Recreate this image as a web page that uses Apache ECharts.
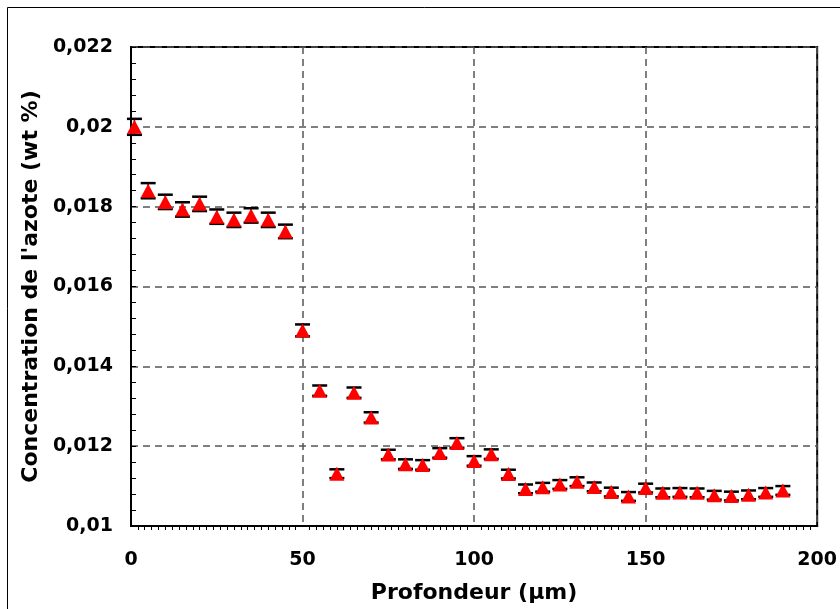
<!DOCTYPE html>
<html>
<head>
<meta charset="utf-8">
<script src="https://cdn.jsdelivr.net/npm/echarts@6/dist/echarts.min.js"></script>
<style>
html,body{margin:0;padding:0;background:#fff;}
#chart{width:840px;height:609px;}
</style>
</head>
<body>
<div id="chart"></div>
<script>
// Depth (µm)
const depths = [1, 5, 10, 15, 20, 25, 30, 35, 40, 45, 50, 55, 60, 65, 70, 75, 80, 85, 90, 95,
  100, 105, 110, 115, 120, 125, 130, 135, 140, 145, 150, 155, 160, 165, 170, 175, 180, 185, 190];
// Nitrogen concentration (wt %)
const concentrations = [0.0200, 0.01840, 0.01812, 0.01793, 0.01807, 0.01775, 0.01767, 0.01778, 0.01767, 0.01738,
  0.01490, 0.01339, 0.01131, 0.01334, 0.01272, 0.01179, 0.01155, 0.01153, 0.01183, 0.01208,
  0.01163, 0.01180, 0.01130, 0.01093, 0.01097, 0.01104, 0.01111, 0.01098, 0.01085, 0.01074,
  0.01095, 0.01083, 0.01084, 0.01083, 0.01077, 0.01075, 0.01078, 0.01084, 0.01089];
// Error bar half-widths (wt %)
const errors = [0.00020, 0.00019, 0.00018, 0.00018, 0.00018, 0.00018, 0.00018, 0.00018, 0.00018, 0.00017,
  0.00015, 0.00013, 0.00011, 0.00013, 0.00013, 0.00012, 0.00012, 0.00012, 0.00012, 0.00012,
  0.00012, 0.00012, 0.00011, 0.00011, 0.00011, 0.00011, 0.00011, 0.00011, 0.00011, 0.00011,
  0.00011, 0.00011, 0.00011, 0.00011, 0.00011, 0.00011, 0.00011, 0.00011, 0.00011];
// Tick labels
const xTickValues = [0, 50, 100, 150, 200];
const xTickLabels = ['0', '50', '100', '150', '200'];
const yTickValues = [0.010, 0.012, 0.014, 0.016, 0.018, 0.020, 0.022];
const yTickLabels = ['0,01', '0,012', '0,014', '0,016', '0,018', '0,02', '0,022'];

const xTitle = 'Profondeur (µm)';
const yTitle = "Concentration de l'azote (wt %)";

const FONT = "'DejaVu Sans', Verdana, sans-serif";

const pointData = depths.map((d, i) => [d, concentrations[i]]);
const errData = depths.map((d, i) => [d, concentrations[i], errors[i]]);

function labelFor(values, labels, v) {
  for (let i = 0; i < values.length; i++) {
    if (Math.abs(values[i] - v) < 1e-9) return labels[i];
  }
  return '';
}

const chart = echarts.init(document.getElementById('chart'), null, {renderer: 'canvas'});
chart.setOption({
  animation: false,
  backgroundColor: '#fff',
  grid: {
    left: 131, right: 18, top: 47, bottom: 82,
    show: true, borderColor: '#000', borderWidth: 2, backgroundColor: 'transparent'
  },
  graphic: [{
    type: 'rect', silent: true,
    shape: {x: 7.5, y: 7.5, width: 860, height: 620},
    style: {fill: 'none', stroke: '#000', lineWidth: 1}
  }],
  xAxis: {
    type: 'value', min: 0, max: 200, interval: 50,
    name: xTitle, nameLocation: 'middle', nameGap: 56,
    nameTextStyle: {fontFamily: FONT, fontWeight: 'bold', fontSize: 22, color: '#000'},
    axisLine: {show: true, onZero: false, lineStyle: {color: '#000', width: 2}},
    axisTick: {show: false},
    minorTick: {show: true, splitNumber: 25, length: 4, lineStyle: {color: '#000', width: 1}},
    axisLabel: {
      fontFamily: FONT, fontWeight: 'bold', fontSize: 19, color: '#000', margin: 25,
      formatter: v => labelFor(xTickValues, xTickLabels, v)
    },
    splitLine: {show: true, lineStyle: {color: '#555', width: 1.5, type: [7, 5]}}
  },
  yAxis: {
    type: 'value', min: 0.010, max: 0.022, interval: 0.002,
    name: yTitle, nameLocation: 'middle', nameGap: 77, nameRotate: 90,
    nameTextStyle: {fontFamily: FONT, fontWeight: 'bold', fontSize: 22, color: '#000'},
    axisLine: {show: true, onZero: false, lineStyle: {color: '#000', width: 2}},
    axisTick: {show: true, inside: true, length: 5, lineStyle: {color: '#000', width: 1}},
    minorTick: {show: true, splitNumber: 5, length: 5, lineStyle: {color: '#000', width: 1}},
    axisLabel: {
      fontFamily: FONT, fontWeight: 'bold', fontSize: 19, color: '#000', margin: 18,
      formatter: v => labelFor(yTickValues, yTickLabels, v)
    },
    splitLine: {show: true, lineStyle: {color: '#555', width: 1.5, type: [7, 5]}}
  },
  series: [
    {
      type: 'custom',
      data: errData,
      encode: {x: 0, y: 1},
      z: 2,
      renderItem: function (params, api) {
        const x = api.value(0), y = api.value(1), e = api.value(2);
        const top = api.coord([x, y + e]);
        const bot = api.coord([x, y - e]);
        const hw = 7.5;
        const st = {stroke: '#000', lineWidth: 2.5};
        return {
          type: 'group',
          children: [
            {type: 'line', shape: {x1: top[0], y1: top[1], x2: bot[0], y2: bot[1]}, style: {stroke: '#000', lineWidth: 1.5}},
            {type: 'line', shape: {x1: top[0] - hw, y1: top[1], x2: top[0] + hw, y2: top[1]}, style: st},
            {type: 'line', shape: {x1: bot[0] - hw, y1: bot[1], x2: bot[0] + hw, y2: bot[1]}, style: st}
          ]
        };
      }
    },
    {
      type: 'scatter',
      data: pointData,
      symbol: 'triangle',
      symbolSize: [15, 14],
      itemStyle: {color: '#ff0000', opacity: 1},
      z: 3
    }
  ]
});
</script>
</body>
</html>
